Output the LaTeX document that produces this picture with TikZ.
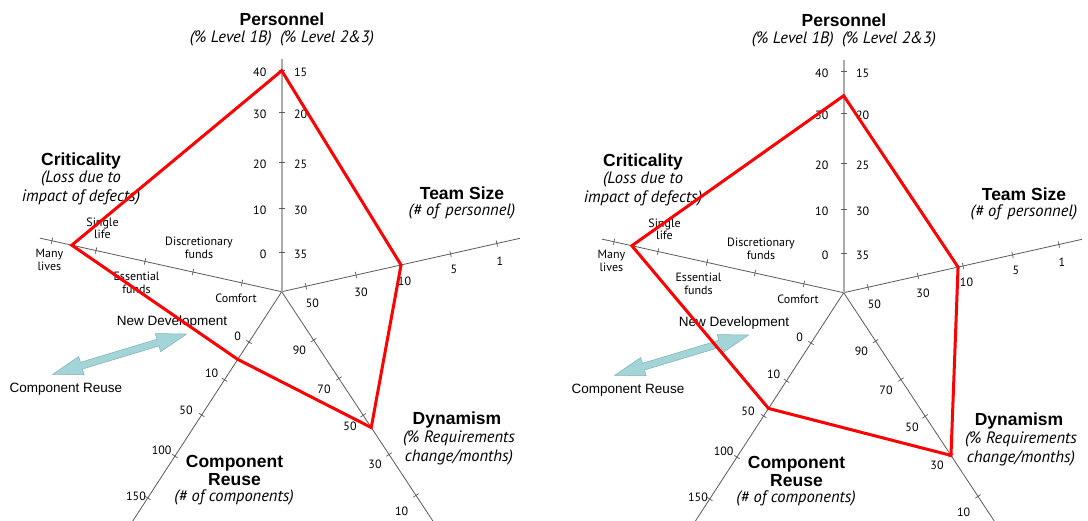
\documentclass[tikz,border=0pt]{standalone}
\usepackage{fontspec}
\setmainfont{Liberation Sans}
\newfontfamily\labfont{PT Sans}
\usetikzlibrary{calc}

\definecolor{axisgray}{HTML}{5A5A5A}
\definecolor{persgray}{HTML}{ABABAB}
\definecolor{radarred}{HTML}{FF0000}
\definecolor{arrowfill}{HTML}{A3D5D8}
\definecolor{arrowedge}{HTML}{7FB0B3}

\tikzset{
  ttl/.style={font=\bfseries\fontsize{17.5}{18}\selectfont, inner sep=0pt, align=center},
  sub/.style={font=\labfont\itshape\fontsize{16.5}{18.5}\selectfont, inner sep=0pt, align=center},
  lbl/.style={font=\labfont\fontsize{12}{12.5}\selectfont, inner sep=0pt, align=center},
  arrlbl/.style={font=\fontsize{13.5}{16}\selectfont, inner sep=0pt},
  axisline/.style={draw=axisgray, line width=0.8pt},
  persaxis/.style={draw=persgray, line width=2.2pt},
  tickmark/.style={draw=axisgray, line width=0.7pt},
  radarline/.style={draw=radarred, line width=3pt, line join=miter},
  dblarrow/.style={fill=arrowfill, draw=arrowedge, line width=0.5pt},
}

% short marks across an axis: centre, angle, list of distances
\newcommand\ticksalong[3]{%
  \foreach \d in {#3}{%
    \draw[tickmark] ($(#1)+({#2}:\d)+({#2+90}:3.2)$) -- ($(#1)+({#2}:\d)+({#2-90}:3.2)$);
  }%
}

% one five-axis profile chart
% #1 name prefix, #2 offset, #3..#7 profile radii on
% Personnel, Team Size, Dynamism, Component Reuse, Criticality
\newcommand\radarpanel[7]{%
  \begin{scope}[shift={(#2)}]
    \coordinate (#1c) at (281.7,291.7);
  \end{scope}
  % axis end points
  \coordinate (#1eP) at ($(#1c)+(-90:232.4)$);
  \coordinate (#1eT) at ($(#1c)+(-12.63:244.2)$);
  \coordinate (#1eD) at ($(#1c)+(56.6:276)$);
  \coordinate (#1eR) at ($(#1c)+(123:276)$);
  \coordinate (#1eC) at ($(#1c)+(192.5:247.6)$);
  % axes
  \draw[axisline] (#1c) -- (#1eT);
  \draw[axisline] (#1c) -- (#1eD);
  \draw[axisline] (#1c) -- (#1eR);
  \draw[axisline] (#1c) -- (#1eC);
  \draw[persaxis] (#1c) -- (#1eP);
  \ticksalong{#1c}{-90}{221,179.3,129.3,83,39.7}
  \ticksalong{#1c}{-12.63}{24.9,76.2,122.3,173,220.5}
  \ticksalong{#1c}{56.6}{58,104,148,195,244}
  \ticksalong{#1c}{123}{60,105,147,196,246}
  \ticksalong{#1c}{192.5}{40.7,90.9,140,190.2,235.3}
  \begin{scope}[shift={(#2)}]
    % titles
    \node[ttl] (#1tP) at (282,19.5) {Personnel};
    \node[sub] (#1sP) at (282,38.3) {(\% Level 1B)\hspace{0.5em}(\% Level 2\&3)};
    \node[ttl] (#1tC) at (81,160.5) {Criticality};
    \node[sub] (#1sC) at (81,188) {(Loss due to\\impact of defects)};
    \node[ttl] (#1tT) at (462,193) {Team Size};
    \node[sub] (#1sT) at (462,211.5) {(\# of\hspace{0.4em}personnel)};
    \node[ttl] (#1tD) at (457,420) {Dynamism};
    \node[sub] (#1sD) at (459,448) {(\% Requirements\\change/months)};
    \node[ttl] (#1tR) at (234.5,470) {Component\\Reuse};
    \node[sub] (#1sR) at (234,497) {(\# of components)};
    % Personnel scale
    \foreach \yy/\a/\b in {72.5/40/15, 114/30/20, 164/20/25, 210.5/10/30, 254/0/35}{
      \node[lbl, anchor=east] at (266.5,\yy) {\a};
      \node[lbl, anchor=west] at (294,\yy) {\b};
    }
    % Team Size scale
    \node[lbl] (#1t1) at (312.3,303.3) {50};
    \node[lbl] (#1t2) at (361,292.3) {30};
    \node[lbl] (#1t3) at (404.5,281.5) {10};
    \node[lbl] (#1t4) at (454,269.3) {5};
    \node[lbl] (#1t5) at (500,261) {1};
    % Dynamism scale
    \node[lbl] (#1d1) at (299.3,350) {90};
    \node[lbl] (#1d2) at (324,389.3) {70};
    \node[lbl] (#1d3) at (350,426.7) {50};
    \node[lbl] (#1d4) at (375,464.3) {30};
    \node[lbl] (#1d5) at (401.7,511) {10};
    % Component Reuse scale
    \node[lbl] (#1r1) at (237.7,336.7) {0};
    \node[lbl] (#1r2) at (211.7,373.3) {10};
    \node[lbl] (#1r3) at (186,410) {50};
    \node[lbl] (#1r4) at (161.7,450.7) {100};
    \node[lbl] (#1r5) at (136,496.7) {150};
    % Criticality scale
    \node[lbl] (#1k1) at (49.5,260) {Many\\lives};
    \node[lbl] (#1k2) at (102.5,228.5) {Single\\life};
    \node[lbl] (#1k3) at (136.5,283) {Essential\\funds};
    \node[lbl] (#1k4) at (199,248) {Discretionary\\funds};
    \node[lbl] (#1k5) at (236,298) {Comfort};
    % reuse versus new development
    \begin{scope}[shift={(52.7,374.3)}, rotate=16.74]
      \fill[dblarrow] (0,0) -- (30,-9.5) -- (30,-3.5) -- (109.9,-3.5) -- (109.9,-9.5)
        -- (139.9,0) -- (109.9,9.5) -- (109.9,3.5) -- (30,3.5) -- (30,9.5) -- cycle;
    \end{scope}
    \node[arrlbl] (#1nd) at (172,322.5) {New Development};
    \node[arrlbl] (#1cr) at (66,389) {Component Reuse};
  \end{scope}
  % profile
  \coordinate (#1v1) at ($(#1c)+(-90:#3)$);
  \coordinate (#1v2) at ($(#1c)+(-12.63:#4)$);
  \coordinate (#1v3) at ($(#1c)+(56.6:#5)$);
  \coordinate (#1v4) at ($(#1c)+(123:#6)$);
  \coordinate (#1v5) at ($(#1c)+(192.5:#7)$);
  \draw[radarline] (#1v1) -- (#1v2) -- (#1v3) -- (#1v4) -- (#1v5) -- cycle;
}

\begin{document}
\begin{tikzpicture}[x=1pt, y=-1pt]
  \fill[white] (0,0) rectangle (1088,520);
  \useasboundingbox (0,0) rectangle (1088,520);
  \radarpanel{L}{0,0}{221}{122.3}{162.7}{80.7}{215}
  \radarpanel{R}{562,1}{197}{117.2}{194.9}{138}{217}
\end{tikzpicture}
\end{document}
